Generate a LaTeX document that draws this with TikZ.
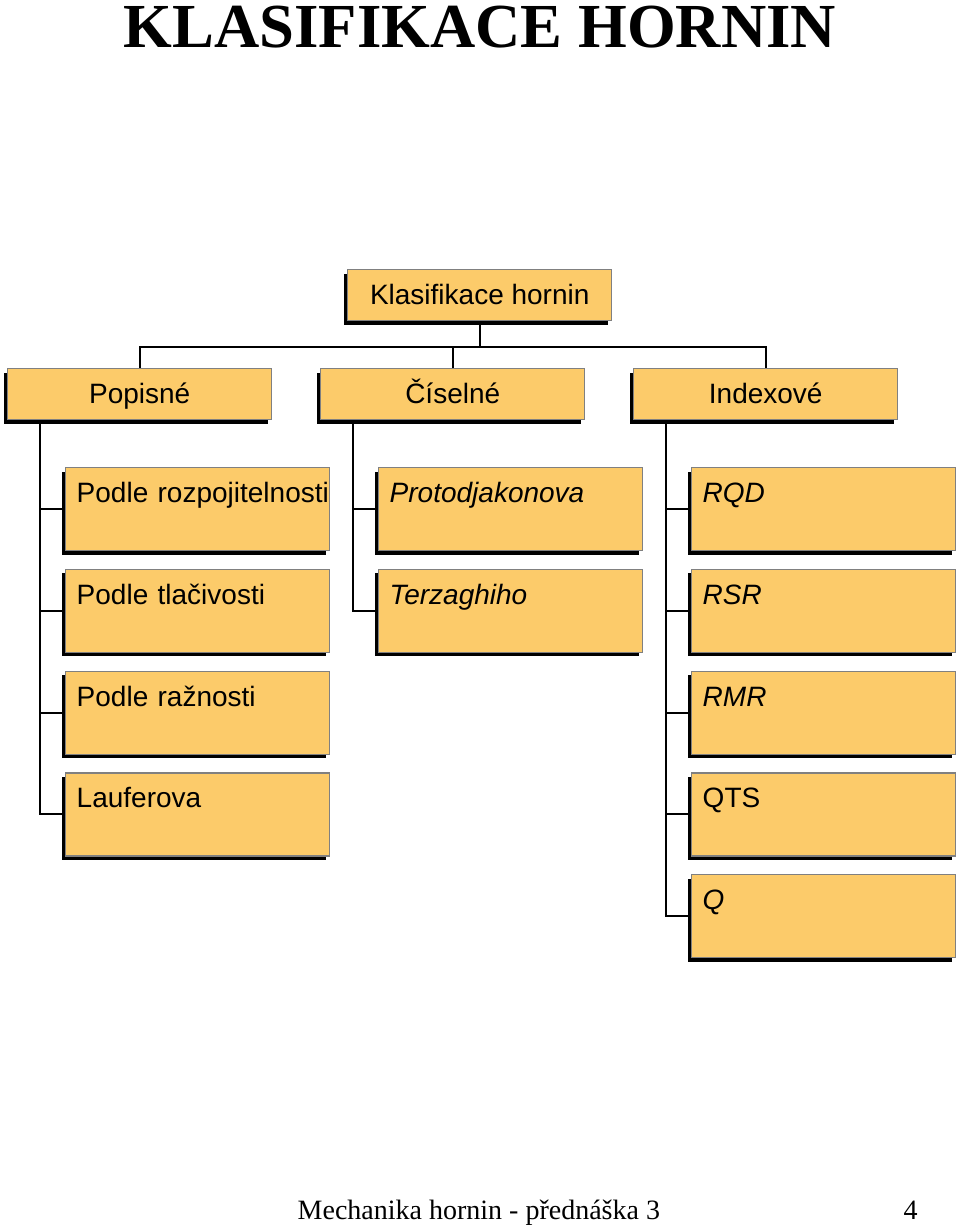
\documentclass[tikz,border=0pt]{standalone}
\usepackage{fontspec}
\setmainfont{Liberation Serif}
\setsansfont{Liberation Sans}
\usetikzlibrary{shadows}
\definecolor{boxfill}{RGB}{252,203,106}
\definecolor{boxline}{RGB}{128,128,128}
\tikzset{
  klbox/.style={draw=boxline, line width=1.1pt, fill=boxfill, inner sep=0pt,
    drop shadow={shadow xshift=-3pt,shadow yshift=-3pt,fill=black,opacity=1},
    font=\sffamily\fontsize{21}{25}\selectfont, anchor=north west},
  headbox/.style={klbox, minimum width=198pt, text height=26.25pt, text depth=12pt},
  itembox/.style={klbox, text width=181.5pt, inner xsep=8.25pt, align=left,
    text height=26.25pt, text depth=36pt},
  edge/.style={line width=1.5pt, black}
}
\begin{document}
\begin{tikzpicture}[x=0.75pt,y=-0.75pt]
		\useasboundingbox (0,0) rectangle (960,1227);
		%%%%%%%%%%%%%%%%% title %%%%%%%%%%%%%%%%%%%
		\node[anchor=base, font=\bfseries\fontsize{47}{50}\selectfont] (title) at (480,48) {KLASIFIKACE HORNIN};
		
		%%%%%%%%%%%%%%%%% boxes %%%%%%%%%%%%%%%%%%%
		\node[headbox] (klas) at (347,269) {Klasifikace hornin};
		
		% first level  (x of left edge, y of top edge)
		\node[headbox] (popis) at (7,368) {Popisné};
		\node[headbox] (cisel) at (320,368) {Číselné};
		\node[headbox] (index) at (633,368) {Indexové};
		
		% second level, one column under each box
		\foreach \txt [count=\n] in {\mbox{Podle rozpojitelnosti}, Podle tlačivosti, Podle ražnosti, Lauferova}
		{\node[itembox] (p\n) at (65,365.25+101.75*\n) {\txt};}
		\foreach \txt [count=\n] in {{\itshape Protodjakonova}, {\itshape Terzaghiho}}
		{\node[itembox] (c\n) at (378,365.25+101.75*\n) {\txt};}
		\foreach \txt [count=\n] in {{\itshape RQD}, {\itshape RSR}, {\itshape RMR}, QTS, {\itshape Q}}
		{\node[itembox] (i\n) at (691,365.25+101.75*\n) {\txt};}
		
		%%%%%%%%%%%%%%%%% edges %%%%%%%%%%%%%%%%%%%
		\foreach \kid in {popis,cisel,index}
		{\draw[edge] (klas.south) -- ++(0,26) -| (\kid.north);}
		
		\foreach \n in {1,...,4}
		{\draw[edge] ([xshift=24.75pt]popis.south west) |- (p\n.west);}
		\foreach \n in {1,2}
		{\draw[edge] ([xshift=24.75pt]cisel.south west) |- (c\n.west);}
		\foreach \n in {1,...,5}
		{\draw[edge] ([xshift=24.75pt]index.south west) |- (i\n.west);}
		
		%%%%%%%%%%%%%%%%% footer %%%%%%%%%%%%%%%%%%
		\node[anchor=base west, font=\fontsize{21}{25}\selectfont] (foot) at (293,1219) {Mechanika hornin - přednáška 3};
		\node[anchor=base west, font=\fontsize{21}{25}\selectfont] (page) at (899,1219) {4};
	\end{tikzpicture}
\end{document}
